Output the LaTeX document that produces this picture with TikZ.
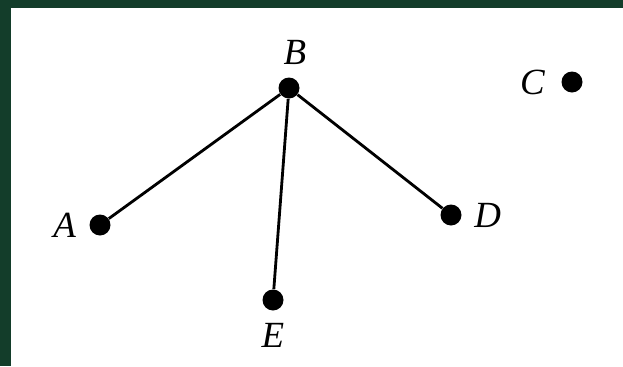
\documentclass[tikz,border=0pt]{standalone}
\usepackage{fontspec}
\setmainfont{Liberation Serif}
\definecolor{framegreen}{HTML}{133D2A}

\begin{document}
\begin{tikzpicture}[every node/.style={circle, fill, inner sep=0pt, minimum size=4.2mm},
    every label/.style={fill=none, font=\fontsize{21}{24}\selectfont\itshape, label distance=1.5mm}]

        % Fundo e moldura
        \fill[framegreen] (0,0) rectangle (12.46,7.32);
        \fill[white] (0.22,0) rectangle (12.46,7.16);

        % Nós
        \node[label={[xshift=1.2mm]above:B}] (b) at (5.78,5.56) {};
        \node[label=left:A] (a) at (2.0,2.82) {};
        \node[label=right:D] (d) at (9.02,3.02) {};
        \node[label=below:E] (e) at (5.46,1.32) {};
        \node[label={[label distance=2.2mm]left:C}] (c) at (11.44,5.68) {};

        % Arestas
        \draw[line width=1.6pt] (b) -- (a);
        \draw[line width=1.6pt] (b) -- (d);
        \draw[line width=1.6pt] (b) -- (e);

    \end{tikzpicture}
\end{document}
